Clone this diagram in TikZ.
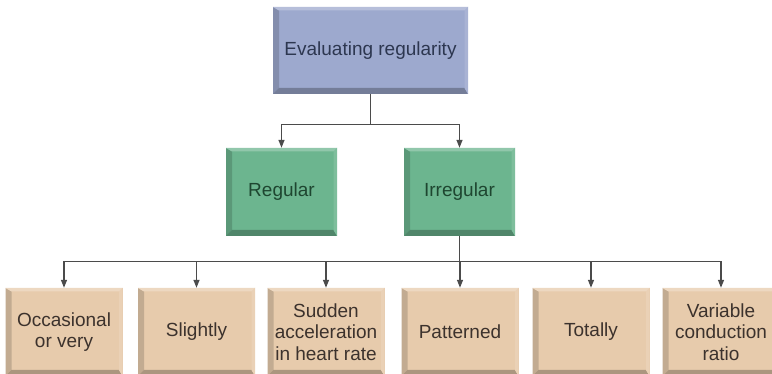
\documentclass[tikz,border=0pt]{standalone}
\usepackage{fontspec}
\setmainfont{Liberation Sans}
\usetikzlibrary{arrows.meta}
\definecolor{topblue}{RGB}{157,169,206}
\definecolor{topink}{RGB}{45,55,80}
\definecolor{regreen}{RGB}{108,181,143}
\definecolor{greenink}{RGB}{30,70,48}
\definecolor{kindtan}{RGB}{231,203,172}
\definecolor{tanink}{RGB}{60,50,45}
\definecolor{wire}{RGB}{75,75,75}
\newcommand*{\bwl}{6pt}% left and bottom bevel
\newcommand*{\bwr}{3.5pt}% top and right bevel
\tikzset{%
  bevelbox/.style={draw=none, fill=#1, inner sep=0pt, align=center,
    font=\fontsize{19}{21.5}\selectfont,
    path picture={
      % left, bottom, right, top bevel
      \fill[#1!84!black] (path picture bounding box.north west) -- (path picture bounding box.south west)
        -- ([shift={(\bwl,\bwl)}]path picture bounding box.south west) -- ([shift={(\bwl,-\bwr)}]path picture bounding box.north west) -- cycle;
      \fill[#1!74!black] (path picture bounding box.south west) -- (path picture bounding box.south east)
        -- ([shift={(-\bwr,\bwl)}]path picture bounding box.south east) -- ([shift={(\bwl,\bwl)}]path picture bounding box.south west) -- cycle;
      \fill[#1!88!white] (path picture bounding box.south east) -- (path picture bounding box.north east)
        -- ([shift={(-\bwr,-\bwr)}]path picture bounding box.north east) -- ([shift={(-\bwr,\bwl)}]path picture bounding box.south east) -- cycle;
      \fill[#1!75!white] (path picture bounding box.north east) -- (path picture bounding box.north west)
        -- ([shift={(\bwl,-\bwr)}]path picture bounding box.north west) -- ([shift={(-\bwr,-\bwr)}]path picture bounding box.north east) -- cycle;
    }},
  rootbox/.style={bevelbox=topblue, text=topink, minimum width=195pt, minimum height=87pt},
  midbox/.style={bevelbox=regreen, text=greenink, minimum width=111pt, minimum height=88pt},
  leafbox/.style={bevelbox=kindtan, text=tanink, minimum width=117pt, minimum height=88pt},
  link/.style={draw=wire, line width=1.3pt},
  arrowlink/.style={link, -{Triangle[length=8pt,width=6pt]}}
}

\begin{document}
\begin{tikzpicture}[x=1pt,y=1pt]
\clip (0,0) rectangle (772,374);
\fill[white] (0,0) rectangle (772,374);

\node[rootbox] (eval) at (370.5,323.5) {Evaluating regularity};

\node[midbox] (reg) at (281.5,182) {Regular};
\node[midbox] (irr) at (459.5,182) {Irregular};

\node[leafbox] (occ) at (64,42)    {Occasional\\or very};
\node[leafbox] (sli) at (196.5,42) {Slightly};
\node[leafbox] (sud) at (326,42)   {Sudden\\acceleration\\in heart rate};
\node[leafbox] (pat) at (460,42)   {Patterned};
\node[leafbox] (tot) at (591,42)   {Totally};
\node[leafbox] (var) at (721,42)   {Variable\\conduction\\ratio};

\coordinate (fork) at ([yshift=-30pt]eval.south);
\draw[link] (eval.south) -- (fork);
\draw[arrowlink] (fork) -| (reg.north);
\draw[arrowlink] (fork) -| (irr.north);

\coordinate (bus) at ([yshift=-25pt]irr.south);
\draw[link] (irr.south) -- (bus);
\draw[arrowlink] (bus) -| (occ.north);
\draw[arrowlink] (bus) -| (sli.north);
\draw[arrowlink] (bus) -| (sud.north);
\draw[arrowlink] (bus) -| (pat.north);
\draw[arrowlink] (bus) -| (tot.north);
\draw[arrowlink] (bus) -| (var.north);

\end{tikzpicture}
\end{document}
